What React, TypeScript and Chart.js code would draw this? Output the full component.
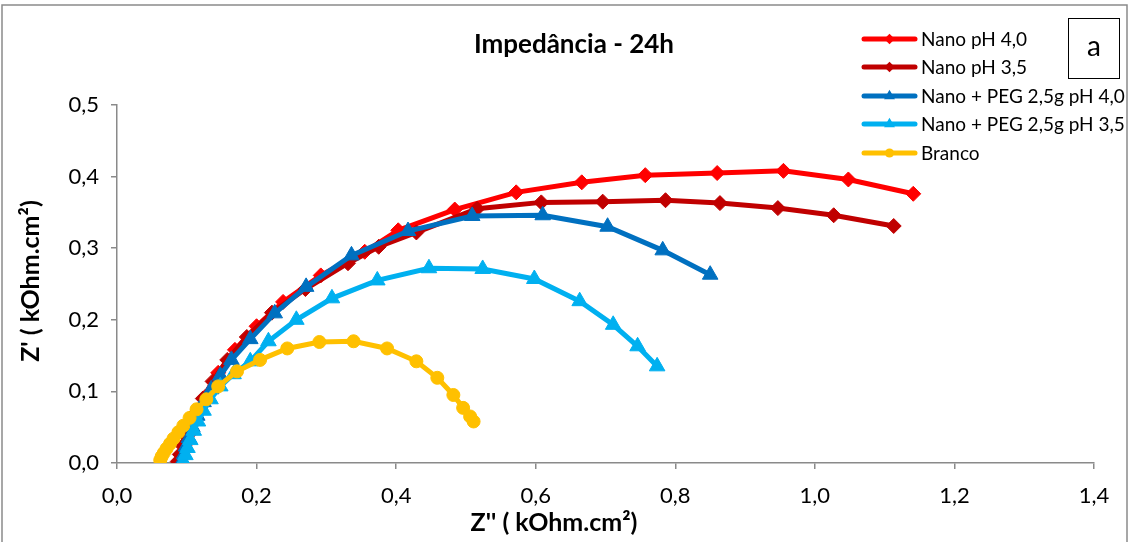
import React, { useEffect, useRef } from 'react';
import { Chart, registerables } from 'chart.js';

Chart.register(...registerables);

const chartTitle = 'Impedância - 24h';
const xAxisTitle = "Z'' ( kOhm.cm²)";
const yAxisTitle = "Z' ( kOhm.cm²)";
const panelLabel = 'a';

const seriesNames = [
  'Nano pH 4,0',
  'Nano pH 3,5',
  'Nano + PEG 2,5g pH 4,0',
  'Nano + PEG 2,5g pH 3,5',
  'Branco',
];

const xTickLabels = ['0,0', '0,2', '0,4', '0,6', '0,8', '1,0', '1,2', '1,4'];
const yTickLabels = ['0,0', '0,1', '0,2', '0,3', '0,4', '0,5'];

// [Z'', Z'] pairs
const nanoPh40: [number, number][] = [
  [0.090, 0.003], [0.093, 0.013], [0.097, 0.025], [0.102, 0.039], [0.108, 0.055],
  [0.116, 0.072], [0.127, 0.093], [0.145, 0.126], [0.169, 0.158], [0.200, 0.191],
  [0.238, 0.225], [0.292, 0.262], [0.355, 0.295], [0.403, 0.325], [0.484, 0.354],
  [0.572, 0.378], [0.666, 0.392], [0.757, 0.402], [0.860, 0.405], [0.955, 0.408],
  [1.048, 0.396], [1.141, 0.376],
];

const nanoPh35: [number, number][] = [
  [0.087, 0.002], [0.090, 0.012], [0.094, 0.024], [0.099, 0.038], [0.105, 0.053],
  [0.113, 0.070], [0.123, 0.090], [0.137, 0.114], [0.158, 0.144], [0.186, 0.176],
  [0.222, 0.210], [0.270, 0.243], [0.331, 0.279], [0.375, 0.302], [0.429, 0.322],
  [0.516, 0.355], [0.608, 0.364], [0.696, 0.365], [0.786, 0.367], [0.864, 0.363],
  [0.947, 0.356], [1.027, 0.346], [1.113, 0.331],
];

const nanoPeg40: [number, number][] = [
  [0.093, 0.002], [0.096, 0.012], [0.099, 0.023], [0.103, 0.035], [0.108, 0.050],
  [0.115, 0.066], [0.124, 0.085], [0.135, 0.103], [0.148, 0.122], [0.164, 0.144],
  [0.191, 0.173], [0.226, 0.209], [0.271, 0.246], [0.336, 0.290], [0.417, 0.324],
  [0.509, 0.345], [0.610, 0.346], [0.703, 0.330], [0.782, 0.297], [0.850, 0.263],
];

const nanoPeg35: [number, number][] = [
  [0.095, 0.002], [0.098, 0.011], [0.101, 0.021], [0.105, 0.032], [0.110, 0.045],
  [0.116, 0.058], [0.124, 0.073], [0.134, 0.089], [0.148, 0.107], [0.167, 0.124],
  [0.191, 0.142], [0.217, 0.170], [0.257, 0.200], [0.308, 0.230], [0.373, 0.255],
  [0.447, 0.272], [0.524, 0.271], [0.598, 0.257], [0.663, 0.226], [0.711, 0.193],
  [0.746, 0.163], [0.774, 0.135],
];

const branco: [number, number][] = [
  [0.062, 0.004], [0.064, 0.009], [0.067, 0.014], [0.071, 0.020], [0.076, 0.027],
  [0.081, 0.034], [0.088, 0.043], [0.095, 0.052], [0.104, 0.063], [0.114, 0.075],
  [0.128, 0.089], [0.145, 0.107], [0.172, 0.128], [0.205, 0.144], [0.244, 0.160],
  [0.290, 0.169], [0.339, 0.170], [0.387, 0.160], [0.429, 0.142], [0.459, 0.119],
  [0.482, 0.095], [0.496, 0.077], [0.506, 0.065], [0.511, 0.058],
];

const seriesData = [nanoPh40, nanoPh35, nanoPeg40, nanoPeg35, branco];
const seriesColors = ['#FF0000', '#C00000', '#0070C0', '#00B0F0', '#FFC000'];
const seriesMarkers = ['rectRot', 'rectRot', 'triangle', 'triangle', 'circle'];
const markerRadius = [7.5, 7.5, 9, 9, 6.5];

const FONT = 'Lato, "Open Sans", sans-serif';
const AXIS = '#8a8a8a';

function drawMarker(ctx: CanvasRenderingContext2D, style: string, x: number, y: number, r: number) {
  ctx.beginPath();
  if (style === 'rectRot') {
    ctx.moveTo(x, y - r);
    ctx.lineTo(x + r, y);
    ctx.lineTo(x, y + r);
    ctx.lineTo(x - r, y);
    ctx.closePath();
  } else if (style === 'triangle') {
    const s = Math.sin(Math.PI / 3) * r;
    ctx.moveTo(x, y - r);
    ctx.lineTo(x + s, y + r / 2);
    ctx.lineTo(x - s, y + r / 2);
    ctx.closePath();
  } else {
    ctx.arc(x, y, r, 0, Math.PI * 2);
  }
  ctx.fill();
}

const decorPlugin = {
  id: 'decor',
  afterDraw(chart: any) {
    const ctx: CanvasRenderingContext2D = chart.ctx;
    ctx.save();
    // outer frame
    ctx.strokeStyle = AXIS;
    ctx.lineWidth = 1.5;
    ctx.strokeRect(2, 5, 1125, 545);

    ctx.fillStyle = '#000';
    ctx.textAlign = 'center';
    ctx.textBaseline = 'middle';
    ctx.font = `bold 26px ${FONT}`;
    ctx.fillText(chartTitle, 574, 45);
    ctx.font = `bold 25px ${FONT}`;
    ctx.fillText(xAxisTitle, 554, 523);
    ctx.save();
    ctx.translate(31, 281);
    ctx.rotate(-Math.PI / 2);
    ctx.fillText(yAxisTitle, 0, 0);
    ctx.restore();

    // legend
    const rowY = [39, 67, 96, 124, 153];
    ctx.font = `19px ${FONT}`;
    ctx.textAlign = 'left';
    seriesNames.forEach((name, i) => {
      const y = rowY[i];
      ctx.strokeStyle = seriesColors[i];
      ctx.fillStyle = seriesColors[i];
      ctx.lineWidth = 5;
      ctx.lineCap = 'round';
      ctx.beginPath();
      ctx.moveTo(864, y);
      ctx.lineTo(915, y);
      ctx.stroke();
      drawMarker(ctx, seriesMarkers[i], 889.5, y, markerRadius[i] * 0.7);
      ctx.fillStyle = '#000';
      ctx.fillText(name, 921, y + 1);
    });

    // panel label box
    ctx.strokeStyle = '#000';
    ctx.lineWidth = 1;
    ctx.strokeRect(1068.5, 18.5, 51, 60);
    ctx.font = `28px ${FONT}`;
    ctx.textAlign = 'center';
    ctx.fillText(panelLabel, 1094, 47);
    ctx.restore();
  },
};

export default function App() {
  const canvasRef = useRef<HTMLCanvasElement | null>(null);

  useEffect(() => {
    const canvas = canvasRef.current;
    if (!canvas) return;
    const datasets = seriesData.map((pts, i) => ({
      label: seriesNames[i],
      data: pts.map(([x, y]) => ({ x, y })),
      showLine: true,
      borderColor: seriesColors[i],
      backgroundColor: seriesColors[i],
      borderWidth: 5,
      pointStyle: seriesMarkers[i] as any,
      pointRadius: markerRadius[i],
      pointBorderWidth: 1,
      pointBorderColor: seriesColors[i],
      pointBackgroundColor: seriesColors[i],
      tension: 0,
      order: seriesData.length - i,
    }));
    const chart = new Chart(canvas, {
      type: 'scatter',
      data: { datasets },
      options: {
        responsive: false,
        animation: false,
        devicePixelRatio: 1,
        layout: { padding: { left: 0, right: 35, top: 105, bottom: 0 } },
        plugins: {
          legend: { display: false },
          title: { display: false },
          tooltip: { enabled: false },
        },
        scales: {
          x: {
            type: 'linear',
            min: 0,
            max: 1.4,
            ticks: {
              stepSize: 0.2,
              autoSkip: false,
              maxRotation: 0,
              color: '#000',
              padding: 14,
              font: { family: FONT, size: 22 },
              callback: (_v: any, i: number) => xTickLabels[i] ?? '',
            },
            grid: { display: true, drawOnChartArea: false, drawTicks: true, tickLength: 6, color: AXIS, lineWidth: 1.5 },
            border: { display: true, color: AXIS, width: 1.5 },
            afterFit: (s: any) => { s.height = 79; },
          },
          y: {
            type: 'linear',
            min: 0,
            max: 0.5,
            ticks: {
              stepSize: 0.1,
              autoSkip: false,
              color: '#000',
              padding: 12,
              font: { family: FONT, size: 22 },
              callback: (_v: any, i: number) => yTickLabels[i] ?? '',
            },
            grid: { display: true, drawOnChartArea: false, drawTicks: true, tickLength: 6, color: AXIS, lineWidth: 1.5 },
            border: { display: true, color: AXIS, width: 1.5 },
            afterFit: (s: any) => { s.width = 117; },
          },
        },
      },
      plugins: [decorPlugin],
    });
    if ((document as any).fonts && (document as any).fonts.load) {
      (document as any).fonts.load(`20px Lato`).then(() => chart.update()).catch(() => {});
    }
    return () => chart.destroy();
  }, []);

  return (
    <div style={{ position: 'fixed', left: 0, top: 0, width: 1129, height: 542, background: '#fff' }}>
      <canvas ref={canvasRef} width={1129} height={542} style={{ display: 'block' }} />
    </div>
  );
}
